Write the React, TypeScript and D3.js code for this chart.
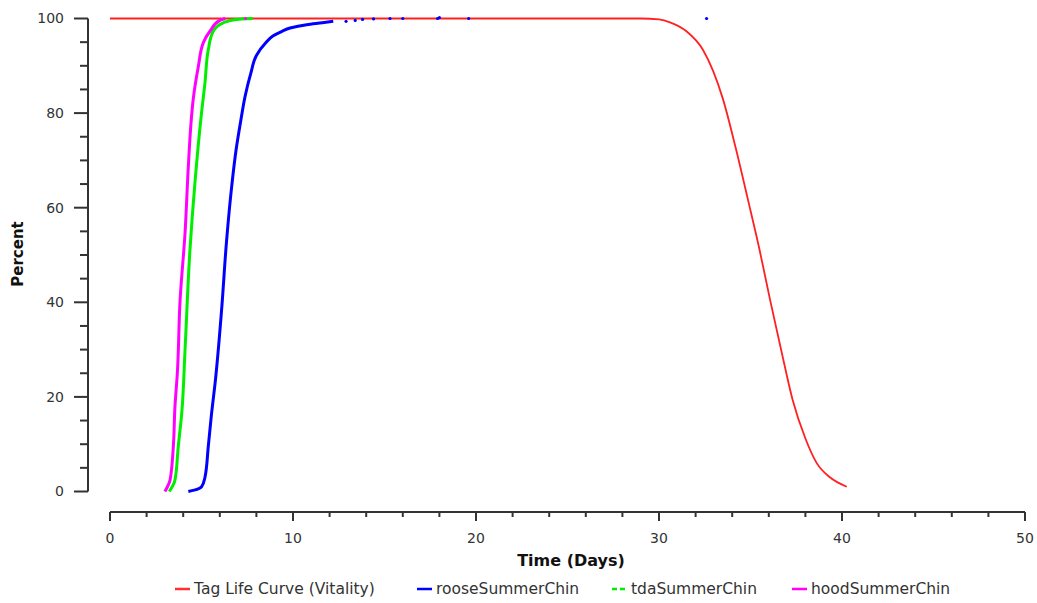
import React from "react";
import * as d3 from "d3";

const W = 1037;
const H = 603;

// Tag life curve (vitality)
const tagDays = [0, 29, 30, 30.6, 31.5, 32.4, 33.5, 34.2, 34.86, 35.5, 36.07, 36.7, 37.3, 38.0, 38.62, 39.34, 40.26];
const tagPct = [100, 100, 99.8, 99.2, 97.3, 93.4, 82.9, 72.5, 61.7, 51, 40.5, 29.5, 19.4, 11.2, 6.0, 3.0, 1.0];

// rooseSummerChin
const rooseDays = [4.28, 4.6, 5.0, 5.19, 5.37, 5.55, 5.74, 6.1, 6.37, 6.65, 6.9, 7.15, 7.38, 7.7, 8.0, 8.5, 8.9, 9.4, 9.84, 10.75, 11.6, 12.2];
const roosePct = [0, 0.3, 1, 3, 9.5, 16.5, 22.8, 38.5, 53, 64.5, 72.5, 78.5, 83.5, 88.5, 92.2, 94.8, 96.3, 97.3, 98.0, 98.7, 99.1, 99.4];
const rooseTailDays = [12.9, 13.4, 13.8, 14.4, 15.3, 16.0, 17.9, 18.0, 19.6, 32.6];
const rooseTailPct = [99.4, 99.6, 99.8, 99.9, 100, 100, 100, 100.2, 100, 100];

// tdaSummerChin
const tdaDays = [3.24, 3.55, 3.73, 3.92, 4.1, 4.37, 4.64, 5.0, 5.19, 5.37, 5.64, 6.19, 6.92, 7.8];
const tdaPct = [0, 2.4, 9.5, 16.5, 29.9, 51.1, 65.2, 80, 86.4, 93.4, 97.3, 99.1, 99.8, 100];

// hoodSummerChin
const hoodDays = [3.0, 3.28, 3.46, 3.55, 3.68, 3.83, 4.1, 4.28, 4.45, 4.55, 4.83, 5.1, 5.46, 6.0, 6.3];
const hoodPct = [0, 2.4, 9.5, 18, 25, 40.5, 54.6, 68.7, 79, 83, 89.9, 94.9, 97.3, 99.6, 100];
const hoodTailDays = [7.4];
const hoodTailPct = [100];

const xMajor = [0, 10, 20, 30, 40, 50];
const yMajor = [0, 20, 40, 60, 80, 100];

const legendItems = [
  { label: "Tag Life Curve (Vitality)", color: "#ff3030", dash: "" },
  { label: "rooseSummerChin", color: "#0000ff", dash: "" },
  { label: "tdaSummerChin", color: "#00ee00", dash: "5,3" },
  { label: "hoodSummerChin", color: "#ff00ff", dash: "" },
];

const FONT = "'DejaVu Sans', Verdana, sans-serif";

export default function App() {
  const x = d3.scaleLinear().domain([0, 50]).range([110, 1025]);
  const y = d3.scaleLinear().domain([0, 100]).range([491.5, 18.5]);

  const line = (xs: number[], ys: number[], curve = d3.curveLinear) =>
    d3
      .line<number>()
      .x((_, i) => x(xs[i]))
      .y((_, i) => y(ys[i]))
      .curve(curve)(xs.map((_, i) => i)) as string;

  const xMinor = d3.range(0, 50.001, 2).filter((v) => v % 10 !== 0);
  const yMinor = d3.range(0, 100.001, 5).filter((v) => v % 20 !== 0);

  const axisColor = "#333";
  const textColor = "#333";

  const legendX = [175, 417, 612, 792];

  return (
    <svg
      width={W}
      height={H}
      style={{ position: "absolute", left: 0, top: 0, background: "#fff" }}
      fontFamily={FONT}
    >
      {/* Y axis */}
      <line x1={88} x2={88} y1={y(100)} y2={y(0)} stroke={axisColor} strokeWidth={2} />
      {yMajor.map((v) => (
        <g key={"ym" + v}>
          <line x1={74} x2={88} y1={y(v)} y2={y(v)} stroke={axisColor} strokeWidth={2} />
          <text x={64} y={y(v)} dy="0.35em" textAnchor="end" fontSize={14} fill={textColor}>
            {v}
          </text>
        </g>
      ))}
      {yMinor.map((v) => (
        <line key={"yn" + v} x1={80} x2={88} y1={y(v)} y2={y(v)} stroke={axisColor} strokeWidth={2} />
      ))}
      <text
        transform={`translate(23,254) rotate(-90)`}
        textAnchor="middle"
        fontSize={15}
        fontWeight="bold"
        fill="#111"
      >
        Percent
      </text>

      {/* X axis */}
      <line x1={x(0)} x2={x(50)} y1={512} y2={512} stroke={axisColor} strokeWidth={2} />
      {xMajor.map((v) => (
        <g key={"xm" + v}>
          <line x1={x(v)} x2={x(v)} y1={512} y2={521} stroke={axisColor} strokeWidth={2} />
          <text x={x(v)} y={538} dy="0.35em" textAnchor="middle" fontSize={14} fill={textColor}>
            {v}
          </text>
        </g>
      ))}
      {xMinor.map((v) => (
        <line key={"xn" + v} x1={x(v)} x2={x(v)} y1={512} y2={517} stroke={axisColor} strokeWidth={2} />
      ))}
      <text x={571} y={560} dy="0.35em" textAnchor="middle" fontSize={16} fontWeight="bold" fill="#111">
        Time (Days)
      </text>

      {/* Series */}
      <path d={line(tagDays, tagPct, d3.curveMonotoneX)} fill="none" stroke="#ff2020" strokeWidth={1.8} />
      <path d={line(rooseDays, roosePct, d3.curveMonotoneY)} fill="none" stroke="#0000ff" strokeWidth={3} strokeLinejoin="round" />
      {rooseTailDays.map((d, i) => (
        <circle key={"rt" + i} cx={x(d)} cy={y(rooseTailPct[i])} r={1.6} fill="#0000ff" />
      ))}
      <path d={line(tdaDays, tdaPct, d3.curveMonotoneY)} fill="none" stroke="#00ee00" strokeWidth={3} strokeLinejoin="round" />
      <path d={line(hoodDays, hoodPct, d3.curveMonotoneY)} fill="none" stroke="#ff00ff" strokeWidth={3} strokeLinejoin="round" />
      {hoodTailDays.map((d, i) => (
        <circle key={"ht" + i} cx={x(d)} cy={y(hoodTailPct[i])} r={1.6} fill="#ff00ff" />
      ))}

      {/* Legend */}
      {legendItems.map((it, i) => (
        <g key={it.label}>
          <line
            x1={legendX[i]}
            x2={legendX[i] + 15}
            y1={589}
            y2={589}
            stroke={it.color}
            strokeWidth={2.5}
            strokeDasharray={it.dash}
          />
          <text x={legendX[i] + 19} y={589} dy="0.35em" fontSize={15.5} fill={textColor}>
            {it.label}
          </text>
        </g>
      ))}
    </svg>
  );
}
